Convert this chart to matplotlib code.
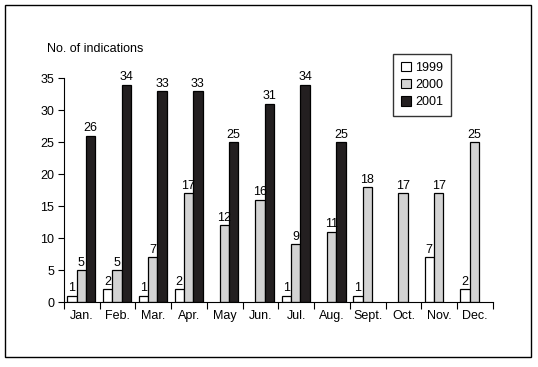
import matplotlib
matplotlib.use("Agg")
import matplotlib.pyplot as plt
import numpy as np
from matplotlib.patches import Rectangle, Patch

plt.rcParams["font.family"] = ["Liberation Sans Narrow", "Liberation Sans", "DejaVu Sans"]

months = ["Jan.", "Feb.", "Mar.", "Apr.", "May", "Jun.", "Jul.", "Aug.",
          "Sept.", "Oct.", "Nov.", "Dec."]
years = ["1999", "2000", "2001"]
v1999 = [1, 2, 1, 2, None, None, 1, None, 1, None, 7, 2]
v2000 = [5, 5, 7, 17, 12, 16, 9, 11, 18, 17, 17, 25]
v2001 = [26, 34, 33, 33, 25, 31, 34, 25, None, None, None, None]
colors = ["white", "#d3d3d3", "#231f20"]

fig = plt.figure(figsize=(5.38, 3.67), dpi=100)
ax = fig.add_axes([0.119, 0.177, 0.797, 0.61])

# outer frame around the whole chart
fig.patches.append(Rectangle((5 / 538, 1 - 357 / 367), 526 / 538, 352 / 367,
                             transform=fig.transFigure, fill=False,
                             edgecolor="black", linewidth=1.0))

w = 0.262
offsets = [-w, 0, w]
x = np.arange(len(months)) + 0.485
for series, col, off in zip([v1999, v2000, v2001], colors, offsets):
    vals = np.array([np.nan if v is None else v for v in series], dtype=float)
    ax.bar(x + off, np.nan_to_num(vals), width=w, color=col,
           edgecolor=np.where(np.isnan(vals), "none", "black").tolist(),
           linewidth=0.9)
    for xi, v in zip(x + off, vals):
        if not np.isnan(v):
            ax.text(xi, v + 0.2, f"{int(v)}", ha="center", va="bottom", fontsize=9)

ax.set_xlim(0, 12)
ax.set_ylim(0, 35)
ax.set_yticks(range(0, 36, 5))
ax.set_xticks(range(0, 13))
ax.set_xticklabels([])
ax.set_xticks(np.arange(12) + 0.5, minor=True)
ax.set_xticklabels(months, minor=True)
ax.tick_params(axis="x", which="minor", length=0, pad=6, labelsize=9)
ax.tick_params(axis="x", which="major", length=5, direction="out")
ax.tick_params(axis="y", length=4, direction="out", labelsize=9, pad=3)
for s in ["top", "right"]:
    ax.spines[s].set_visible(False)

fig.text(47 / 538, 1 - 49 / 367, "No. of indications", fontsize=9,
         ha="left", va="center")

handles = [Patch(facecolor=c, edgecolor="black", linewidth=0.8) for c in colors]
leg = fig.legend(handles, years, loc="upper left",
                 bbox_to_anchor=(393 / 538, 1 - 54 / 367),
                 fancybox=False, edgecolor="black", fontsize=9,
                 handlelength=0.8, handleheight=0.8, handletextpad=0.4,
                 borderpad=0.6, labelspacing=0.42, borderaxespad=0)
leg.get_frame().set_linewidth(1.0)

fig.savefig("out.png", dpi=100)
